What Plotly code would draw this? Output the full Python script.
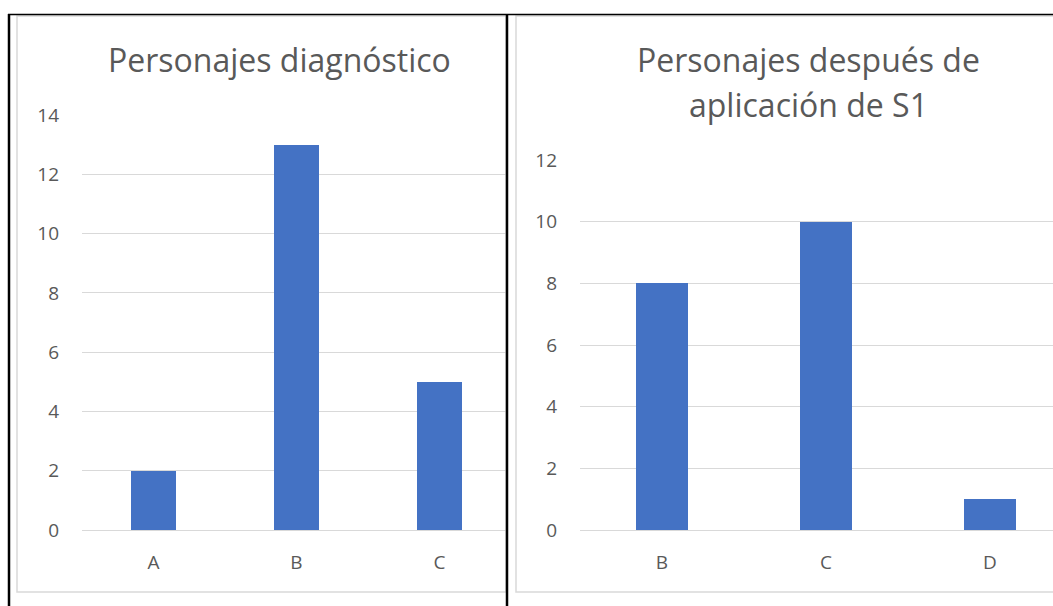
import plotly.graph_objects as go

W, H = 1053, 606
OFF = 0  # body margin removed via post_script

# Data
left_title = "Personajes diagnóstico"
left_categories = ["A", "B", "C"]
left_values = [2, 13, 5]

right_title_lines = ["Personajes después de", "aplicación de S1"]
right_categories = ["B", "C", "D"]
right_values = [8, 10, 1]

left_yticks = [0, 2, 4, 6, 8, 10, 12, 14]
right_yticks = [0, 2, 4, 6, 8, 10, 12]

BAR = "#4472C4"
GRID = "#D9D9D9"
TXT = "#595959"
FONT = "Open Sans"


def px(x):
    return (x - OFF) / W


def py(y):
    return 1 - (y - OFF) / H


fig = go.Figure()
fig.add_trace(go.Bar(x=left_categories, y=left_values, marker=dict(color=BAR, line=dict(width=0)),
                     width=0.31, xaxis="x", yaxis="y", showlegend=False, hoverinfo="x+y"))
fig.add_trace(go.Bar(x=right_categories, y=right_values, marker=dict(color=BAR, line=dict(width=0)),
                     width=0.315, xaxis="x2", yaxis="y2", showlegend=False, hoverinfo="x+y"))

axis_common = dict(showline=False, showgrid=True, gridcolor=GRID, gridwidth=1,
                   zeroline=True, zerolinecolor=GRID, zerolinewidth=1, automargin=False,
                   tickfont=dict(family=FONT, size=19, color=TXT), fixedrange=True)
xaxis_common = dict(type="category", showgrid=False, zeroline=False, showline=False, ticks="",
                    ticklabelstandoff=19, automargin=False,
                    tickfont=dict(family=FONT, size=19, color=TXT), fixedrange=True)

# plot areas in pixels; category spacing in px
l_x0, l_x1, l_sp = 82, 506, 143
r_x0, r_x1, r_sp = 580, 1053, 164

fig.update_layout(
    width=W, height=H,
    margin=dict(l=0, r=0, t=0, b=0, pad=0, autoexpand=False),
    paper_bgcolor="white", plot_bgcolor="white",
    bargap=0, showlegend=False,
    xaxis=dict(domain=[px(l_x0), px(l_x1)], anchor="y",
               range=[-0.5, (l_x1 - l_x0) / l_sp - 0.5], **xaxis_common),
    yaxis=dict(domain=[py(530), py(115)], anchor="x", range=[0, 14], tickvals=left_yticks,
               ticklabelstandoff=22, **axis_common),
    xaxis2=dict(domain=[px(r_x0), 1.0], anchor="y2",
                range=[-0.5, (r_x1 - r_x0) / r_sp - 0.5], **xaxis_common),
    yaxis2=dict(domain=[py(530), py(160)], anchor="x2", range=[0, 12], tickvals=right_yticks,
                ticklabelstandoff=22, **axis_common),
)

# Titles
fig.add_annotation(text=left_title, x=px(279), y=py(60), xref="paper", yref="paper",
                   showarrow=False, xanchor="center", yanchor="middle",
                   font=dict(family=FONT, size=32, color=TXT))
fig.add_annotation(text=right_title_lines[0], x=px(808), y=py(60), xref="paper", yref="paper",
                   showarrow=False, xanchor="center", yanchor="middle",
                   font=dict(family=FONT, size=32, color=TXT))
fig.add_annotation(text=right_title_lines[1], x=px(808), y=py(105), xref="paper", yref="paper",
                   showarrow=False, xanchor="center", yanchor="middle",
                   font=dict(family=FONT, size=32, color=TXT))

shapes = []
# gray chart-area borders
for (x0, x1) in [(17, 506), (516, 1070)]:
    shapes.append(dict(type="rect", xref="paper", yref="paper", x0=px(x0), x1=px(x1),
                       y0=py(592), y1=py(16), line=dict(color=GRID, width=1.5), layer="below"))
# black table lines
shapes.append(dict(type="line", xref="paper", yref="paper", x0=px(8), x1=px(1070),
                   y0=py(14.5), y1=py(14.5), line=dict(color="black", width=1.5)))
shapes.append(dict(type="line", xref="paper", yref="paper", x0=px(9), x1=px(9),
                   y0=py(14), y1=py(620), line=dict(color="black", width=2.5)))
shapes.append(dict(type="line", xref="paper", yref="paper", x0=px(507), x1=px(507),
                   y0=py(14), y1=py(620), line=dict(color="black", width=2.5)))
fig.update_layout(shapes=shapes)

fig.write_html("out.html",
               config={"displayModeBar": False},
               post_script="document.body.style.margin='0';document.body.style.overflow='hidden';")
